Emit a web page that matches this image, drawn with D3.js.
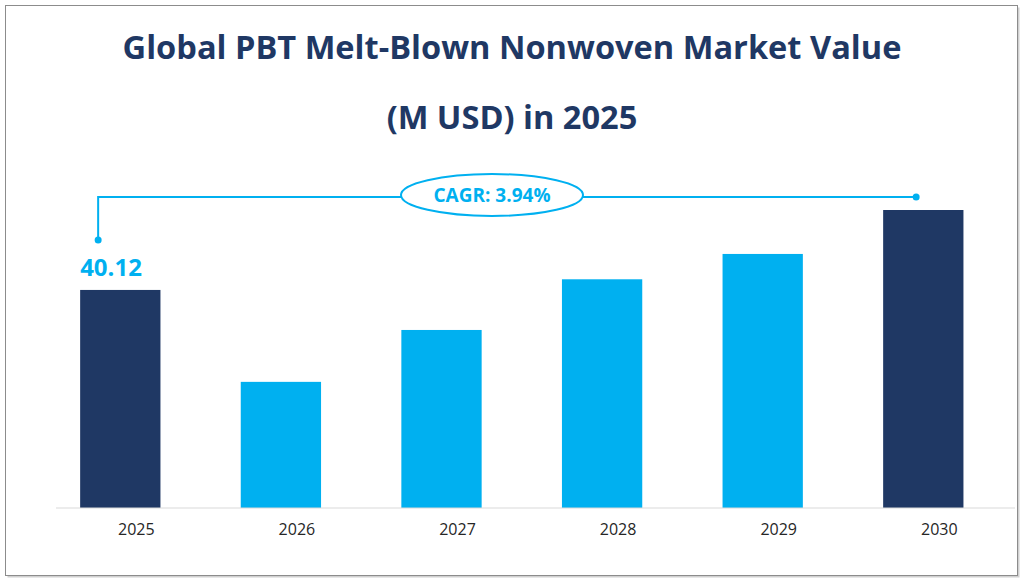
<!DOCTYPE html>
<html><head><meta charset="utf-8">
<script src="https://cdn.jsdelivr.net/npm/d3@7"></script>
<style>body{margin:0;background:#fff}svg{display:block}</style>
</head><body>
<svg id="c" width="1024" height="588"></svg>
<script>
const titleLines = ["Global PBT Melt-Blown Nonwoven Market Value", "(M USD) in 2025"];
const years = ["2025","2026","2027","2028","2029","2030"];
const values = [40.12, 30.29, 35.84, 41.26, 43.97, 48.67];
const cagrLabel = "CAGR: 3.94%";
const yFloor = 16.8;

const svg = d3.select("#c");
const navy = "#1f3864", cyan = "#00b0f0";
const font = "'Open Sans', sans-serif";

// frame
svg.append("rect").attr("x",7.5).attr("y",7.5).attr("width",1012).attr("height",570)
  .attr("fill","#d0d0d0");
svg.append("rect").attr("x",5.5).attr("y",5.5).attr("width",1012).attr("height",570)
  .attr("fill","#fff").attr("stroke","#8c8c8c").attr("stroke-width",1);

// title
const tl = svg.append("g");
titleLines.forEach((t,i)=>{
  tl.append("text").attr("x",512).attr("y", i===0?59:129)
    .attr("text-anchor","middle").attr("font-family",font).attr("font-weight",700)
    .attr("font-size",30).attr("fill",navy).text(t);
});
const first = tl.select("text").node();
const w = first.getComputedTextLength();
tl.selectAll("text").attr("font-size",30*779/w);

const x = d3.scaleBand().domain(years).range([40,1003.6]).paddingInner(0.5).paddingOuter(0.25);
const y = d3.scaleLinear().domain([yFloor, values[5]]).range([508,210]);

svg.append("g").selectAll("rect").data(years).join("rect")
  .attr("x",d=>x(d)).attr("width",x.bandwidth())
  .attr("y",(d,i)=>y(values[i])).attr("height",(d,i)=>y(yFloor)-y(values[i]))
  .attr("fill",(d,i)=>(i===0||i===years.length-1)?navy:cyan);

// axis
const ax = svg.append("g").attr("transform","translate(0,508)")
  .call(d3.axisBottom(x).tickSize(0).tickPadding(16));
ax.select(".domain").remove();
ax.append("line").attr("x1",56).attr("x2",1015).attr("stroke","#d9d9d9").attr("stroke-width",1);
ax.selectAll(".tick text").attr("dx",16).attr("font-family",font).attr("font-size",16)
  .attr("fill","#262626");

// value label
svg.append("text").attr("x",x(years[0])).attr("y",276).attr("font-family",font)
  .attr("font-weight",700).attr("font-size",24).attr("fill",cyan).text(values[0].toFixed(2));

// CAGR annotation
const lx = x(years[0])+18, rx = x(years[5])+33, ly = 197;
svg.append("path").attr("d",`M${lx},240 L${lx},${ly} L${rx},${ly}`)
  .attr("fill","none").attr("stroke",cyan).attr("stroke-width",2);
svg.append("circle").attr("cx",lx).attr("cy",240).attr("r",3.5).attr("fill",cyan);
svg.append("circle").attr("cx",rx).attr("cy",ly).attr("r",3.5).attr("fill",cyan);
svg.append("ellipse").attr("cx",492).attr("cy",195).attr("rx",91).attr("ry",21)
  .attr("fill","#fff").attr("stroke",cyan).attr("stroke-width",2);
svg.append("text").attr("x",492).attr("y",202).attr("text-anchor","middle")
  .attr("font-family",font).attr("font-weight",700).attr("font-size",19).attr("fill",cyan)
  .text(cagrLabel);
</script>
</body></html>
